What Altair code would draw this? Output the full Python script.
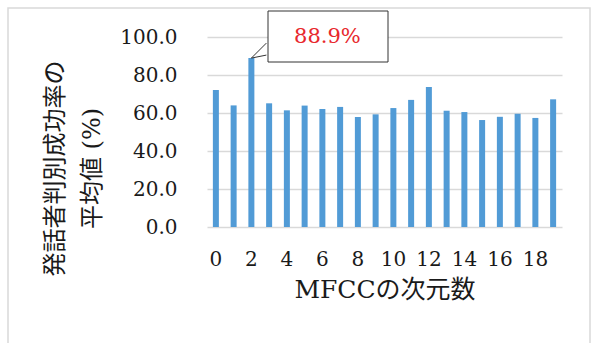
import altair as alt
import pandas as pd

dims = list(range(20))
values = [72.1, 64.0, 88.9, 65.1, 61.4, 63.9, 62.1, 63.2, 57.9, 59.3,
          62.6, 66.9, 73.7, 61.2, 60.5, 56.3, 58.0, 59.6, 57.4, 67.2]
x_tick_values = [0, 2, 4, 6, 8, 10, 12, 14, 16, 18]
y_ticks = [0, 20, 40, 60, 80, 100]
highlight_dim = 2
x_title = "MFCCの次元数"
y_title = ["発話者判別成功率の", "平均値 (%)"]

df = pd.DataFrame({"dim": dims, "value": values})

SERIF = "DejaVu Serif"
MIXED = "DejaVu Serif, Noto Sans CJK JP"

x_enc = alt.X("dim:O", sort=dims,
              scale=alt.Scale(paddingInner=0, paddingOuter=0),
              axis=alt.Axis(values=x_tick_values, labelAngle=0, ticks=False, domain=False,
                            grid=False, labelOverlap=False,
                            labelFont=SERIF, labelFontSize=20, labelColor="#1a1a1a",
                            labelPadding=22, title=x_title, titleFont=MIXED,
                            titleFontSize=25, titleFontWeight="normal", titleColor="#1a1a1a",
                            titlePadding=8))
y_enc = alt.Y("value:Q", scale=alt.Scale(domain=[0, 100]),
              axis=alt.Axis(values=y_ticks, format=".1f", ticks=False, domain=False,
                            labelOverlap=False, grid=True,
                            labelFont=SERIF, labelFontSize=20, labelColor="#1a1a1a",
                            labelPadding=30, gridColor="#d9d9d9", gridWidth=1.5,
                            title=y_title, titleFont=MIXED, titleFontSize=24,
                            titleFontWeight="normal", titleColor="#1a1a1a", titleAngle=-90,
                            titleAlign="center", titleBaseline="top", titleLineHeight=37,
                            titleX=-164, titleY=131))

one = alt.Data(values=[{"k": 1}])

frame = alt.Chart(one).mark_rect(filled=False, stroke="#d9d9d9", strokeWidth=1.5).encode(
    x=alt.value(-199), x2=alt.value(383), y=alt.value(-29), y2=alt.value(330))

bars = alt.Chart(df).mark_bar(color="#519BD6", size=6).encode(x=x_enc, y=y_enc)

box = alt.Chart(one).mark_rect(fill="white", stroke="#333", strokeWidth=1).encode(
    x=alt.value(61), x2=alt.value(181), y=alt.value(-26), y2=alt.value(25))

hl = df[df["dim"] == highlight_dim].copy()
hl["label"] = hl["value"].map(lambda v: f"{v:.1f}%")

pointer = alt.Chart(hl).mark_point(shape="M 1 -1 L 0 0 L 1 -0.2", filled=True, fill="white",
                                   stroke="#333", strokeWidth=1, size=900, opacity=1).encode(
    x=x_enc, y=y_enc)

label = alt.Chart(hl).mark_text(font=SERIF, fontSize=21, color="#E8282D",
                                dx=76, dy=-21, baseline="middle", align="center").encode(
    x=x_enc, y=y_enc, text="label:N")

chart = alt.layer(frame, bars, box, pointer, label).properties(
    width=355, height=190,
    autosize=alt.AutoSizeParams(type="none"),
    padding={"left": 207, "top": 37, "right": 30, "bottom": 116},
    background="white",
).configure_view(stroke="transparent", strokeWidth=0)

chart.save("out.html", embed_options={"renderer": "svg", "actions": False})
